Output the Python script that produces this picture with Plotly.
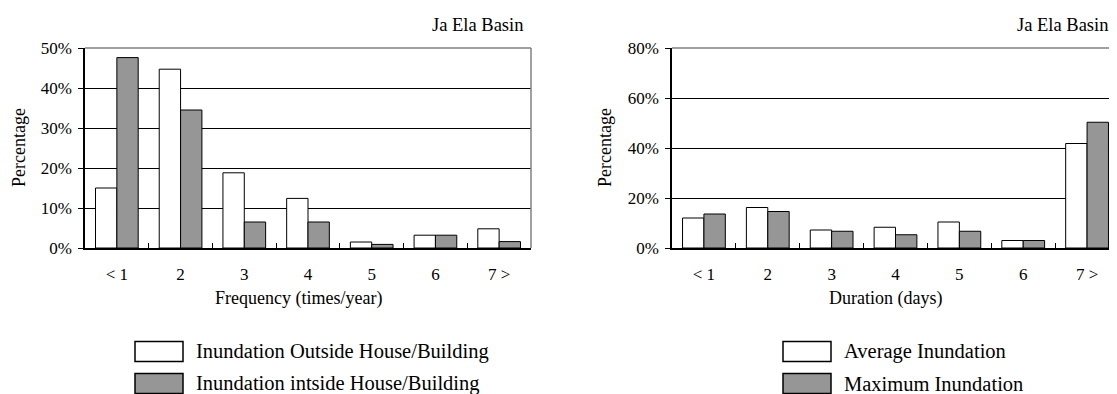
import plotly.graph_objects as go

W, H = 1117, 394
# ---- data ----
freq_cats = ["< 1", "2", "3", "4", "5", "6", "7 >"]
freq_outside = [15.0, 44.7, 18.8, 12.4, 1.5, 3.2, 4.8]
freq_inside = [47.6, 34.5, 6.5, 6.5, 0.9, 3.2, 1.6]

dur_cats = ["< 1", "2", "3", "4", "5", "6", "7 >"]
dur_average = [12.0, 16.2, 7.2, 8.3, 10.4, 3.0, 41.8]
dur_maximum = [13.6, 14.6, 6.7, 5.3, 6.7, 3.0, 50.3]

freq_yticks = [0, 10, 20, 30, 40, 50]
freq_yticktext = ["0%", "10%", "20%", "30%", "40%", "50%"]
dur_yticks = [0, 20, 40, 60, 80]
dur_yticktext = ["0%", "20%", "40%", "60%", "80%"]

FONT = "Liberation Serif, Times New Roman, serif"
GRAY = "#969696"

# the page body has an 8px margin: work in screen pixels and shift
OFF = 8
TOP, BOT = 48 - OFF, 248 - OFF
L1, R1 = 85 - OFF, 531 - OFF
L2, R2 = 672 - OFF, 1119 - OFF


def px(x):
    return (x - OFF) / W


def py(y):
    return (BOT - (y - OFF)) / (BOT - TOP)


fig = go.Figure()
fig.add_trace(go.Bar(x=freq_cats, y=freq_outside, name="Inundation Outside House/Building",
                     marker=dict(color="white", line=dict(color="black", width=1)),
                     xaxis="x", yaxis="y", showlegend=False))
fig.add_trace(go.Bar(x=freq_cats, y=freq_inside, name="Inundation intside House/Building",
                     marker=dict(color=GRAY, line=dict(color="black", width=1)),
                     xaxis="x", yaxis="y", showlegend=False))
fig.add_trace(go.Bar(x=dur_cats, y=dur_average, name="Average Inundation",
                     marker=dict(color="white", line=dict(color="black", width=1)),
                     xaxis="x2", yaxis="y2", showlegend=False))
fig.add_trace(go.Bar(x=dur_cats, y=dur_maximum, name="Maximum Inundation",
                     marker=dict(color=GRAY, line=dict(color="black", width=1)),
                     xaxis="x2", yaxis="y2", showlegend=False))

xcommon = dict(type="category", showline=True, linecolor="black", linewidth=2,
               ticks="inside", tickson="boundaries", ticklen=5, tickcolor="black",
               tickwidth=1, showgrid=False, zeroline=False, range=[-0.5, 6.5],
               tickfont=dict(family=FONT, size=17, color="black"),
               ticklabelstandoff=10, fixedrange=True)
ycommon = dict(showline=True, linecolor="black", linewidth=1.5, ticks="outside",
               ticklen=5, tickcolor="black", showgrid=True, gridcolor="black",
               gridwidth=1, zeroline=False,
               tickfont=dict(family=FONT, size=17, color="black"),
               ticklabelstandoff=3, fixedrange=True)

fig.update_layout(
    width=W, height=H,
    margin=dict(l=0, r=0, t=TOP, b=H - BOT),
    paper_bgcolor="white", plot_bgcolor="white",
    barmode="group", bargap=0.33, bargroupgap=0.0,
    xaxis=dict(domain=[L1 / W, R1 / W], anchor="y", **xcommon),
    yaxis=dict(domain=[0, 1], range=[0, 50], tickvals=freq_yticks,
               ticktext=freq_yticktext, anchor="x", **ycommon),
    xaxis2=dict(domain=[L2 / W, R2 / W], anchor="y2", **xcommon),
    yaxis2=dict(domain=[0, 1], range=[0, 80], tickvals=dur_yticks,
                ticktext=dur_yticktext, anchor="x2", **ycommon),
)

shapes = []
# gray frame lines (top / right)
shapes.append(dict(type="line", xref="paper", yref="paper", x0=L1 / W, x1=R1 / W, y0=1, y1=1,
                   line=dict(color="#808080", width=1.5)))
shapes.append(dict(type="line", xref="paper", yref="paper", x0=R1 / W, x1=R1 / W, y0=0, y1=1,
                   line=dict(color="#808080", width=1.5)))
shapes.append(dict(type="line", xref="paper", yref="paper", x0=L2 / W, x1=R2 / W, y0=1, y1=1,
                   line=dict(color="#808080", width=1.5)))

annotations = []


def text(t, x, y, size=17, xanchor="center", yanchor="middle", angle=0):
    annotations.append(dict(text=t, x=px(x), y=py(y), xref="paper", yref="paper",
                            showarrow=False, xanchor=xanchor, yanchor=yanchor,
                            textangle=angle,
                            font=dict(family=FONT, size=size, color="black")))


# positions below are in screen pixels of the 1117x394 window
text("Ja Ela Basin", 525, 25, size=18.5, xanchor="right")
text("Ja Ela Basin", 1110, 25, size=18.5, xanchor="right")
text("Frequency (times/year)", 298, 298, size=18)
text("Duration (days)", 885, 298, size=18)
text("Percentage", 19, 148, size=18, angle=-90)
text("Percentage", 605, 148, size=18, angle=-90)

# legends drawn as boxes + labels
legend_items = [
    (135, 194, ["Inundation Outside House/Building", "Inundation intside House/Building"]),
    (783, 842, ["Average Inundation", "Maximum Inundation"]),
]
for bx, tx, labels in legend_items:
    for i, (lab, col) in enumerate(zip(labels, ["white", GRAY])):
        y0 = 341.5 + i * 32
        shapes.append(dict(type="rect", xref="paper", yref="paper",
                           x0=px(bx), x1=px(bx + 48), y0=py(y0), y1=py(y0 + 20),
                           fillcolor=col, line=dict(color="black", width=1.5)))
        text(lab, tx, y0 + 10, size=20.5, xanchor="left")

fig.update_layout(shapes=shapes, annotations=annotations)
fig.write_html("out.html")
